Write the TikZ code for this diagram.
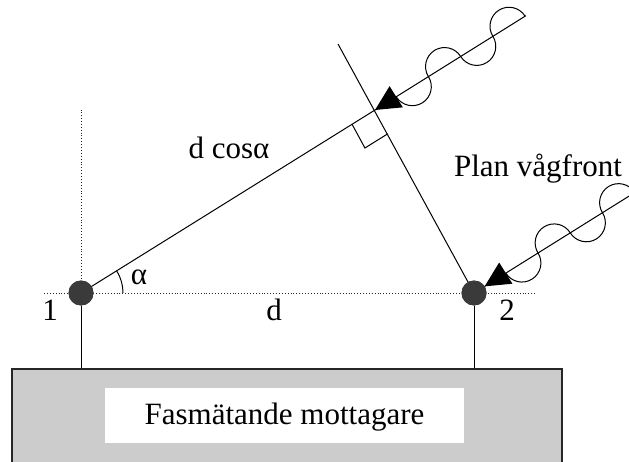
\documentclass[tikz,border=0pt]{standalone}
\usepackage{fontspec}
\setmainfont{Liberation Serif}
\usetikzlibrary{calc}
\newcommand\mywave[3]{%
  \begin{scope}[shift={(#1)}, rotate=#2]
    \draw[wv] (0,0) -- (#3,0);
    \fill (0,0) -- (25,12.5) -- (25,-12.5) -- cycle;
    \draw[wv] (25,0) arc[start angle=180, end angle=360, radius=19]
                     arc[start angle=180, end angle=0, radius=19]
                     arc[start angle=180, end angle=360, radius=19]
                     arc[start angle=180, end angle=0, radius=19];
  \end{scope}}
\begin{document}
\begin{tikzpicture}[x=1pt,y=1pt,
  lbl/.style={font=\fontsize{31}{36}\selectfont, inner sep=0pt, anchor=base},
  ant/.style={circle, fill={rgb,255:red,58;green,58;blue,58}, minimum size=25pt, inner sep=0pt, outer sep=0pt},
  ln/.style={line width=1pt, black},
  dot/.style={line width=0.9pt, dotted, black!85},
  wv/.style={line width=1pt, black}
]
\clip (0,0) rectangle (629,461);
\useasboundingbox (0,0) rectangle (629,461);

% receiver box
\node[draw=black!85, line width=1.3pt, fill={rgb,255:red,204;green,204;blue,204}, minimum width=550pt, minimum height=102pt, inner sep=0pt] (rx) at (287,41) {};
\node[fill=white, minimum width=359pt, minimum height=55pt, inner sep=0pt] (rxl) at (284.5,45.5) {};
\node[lbl] (rxt) at (284.5,37) {Fasmätande mottagare};

% reference dotted lines
\coordinate (hl) at (44,168);
\coordinate (hr) at (535,168);
\coordinate (v0) at (81,168);
\coordinate (vt) at (81,351);
\draw[dot] (hl) -- (hr);
\draw[dot] (v0) -- (vt);

% geometry
\coordinate (foot) at (375,351);
\coordinate (topend) at (338,417);
\node[ant] (n1) at (81,168) {};
\node[ant] (n2) at (474,168) {};

\draw[ln] (n1.center) -- (foot);
\draw[ln] (topend) -- (n2.center);
\node[ant] at (n1) {};
\node[ant] at (n2) {};

% right angle mark
\coordinate (ra1) at ($(foot)!27pt!(n1.center)$);
\coordinate (ra2) at ($(foot)!27pt!(n2.center)$);
\draw[line width=1pt] (ra1) -- ($(ra1)+(ra2)-(foot)$) -- (ra2);

% angle
\draw[line width=1pt] ([shift={(0:42)}]n1.center) arc[start angle=0, end angle=31.9, radius=42];

% connections to receiver
\draw[ln] (n1) -- (n1 |- rx.north);
\draw[ln] (n2) -- (n2 |- rx.north);

% incoming waves
\mywave{foot}{32}{178}
\mywave{n2.32}{32}{190}

% labels
\node[lbl] (l1) at (50,141) {1};
\node[lbl] (l2) at (507,141) {2};
\node[lbl] (ld) at (274,141) {d};
\node[lbl] (la) at (139,177) {α};
\node[lbl] (ldc) at (229,302) {d cosα};
\node[lbl] (lpv) at (538,284) {Plan vågfront};
\end{tikzpicture}
\end{document}
